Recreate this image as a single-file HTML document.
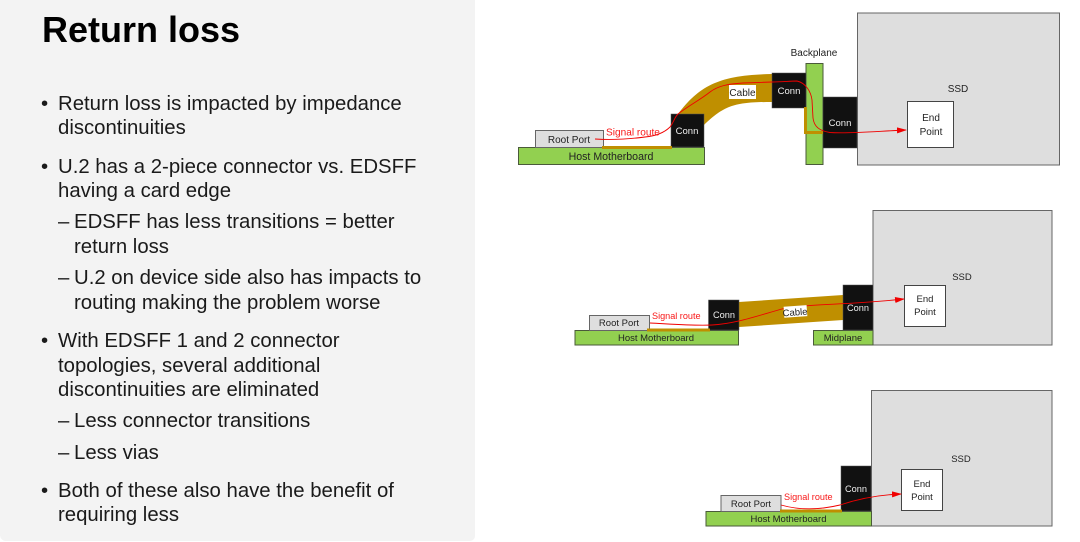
<!DOCTYPE html>
<html><head><meta charset="utf-8"><style>
html,body{margin:0;padding:0;background:#fff}
svg{display:block;filter:blur(.3px)}
.b{font:20.35px "Liberation Sans",sans-serif;fill:#1a1a1a}
.d{font:10px "Liberation Sans",sans-serif;fill:#222;text-anchor:middle}
.m{font-size:10.6px}
.w{font:9.5px "Liberation Sans",sans-serif;fill:#eee;text-anchor:middle}
.r{font:10.1px "Liberation Sans",sans-serif;fill:#f81818}
.s .d{font-size:9.5px}
.s .w{font-size:9.2px}
.s .r{font-size:9.1px}
.g{fill:#92d050;stroke:#4a5a3a;stroke-width:1}
.p{fill:#dedede;stroke:#666;stroke-width:1}
.k{fill:#111;stroke:#555;stroke-width:.5}
.e{fill:#fff;stroke:#444;stroke-width:1}
.t{fill:none;stroke:#bf8f00;stroke-width:3}
.l{fill:none;stroke:#f00000;stroke-width:.9}
</style></head><body>
<svg width="1080" height="542" viewBox="0 0 1080 542" xmlns="http://www.w3.org/2000/svg">
<defs><marker id="a" markerWidth="10" markerHeight="6" refX="9" refY="3" orient="auto" markerUnits="userSpaceOnUse"><path d="M0 0L10 3L0 6Z" fill="#f00000"/></marker></defs>
<path d="M0 0H475V536a5 5 0 0 1-5 5H6a6 6 0 0 1-6-6Z" fill="#f3f3f3"/>
<text x="42" y="42" style="font:bold 36px 'Liberation Sans',sans-serif;fill:#000">Return loss</text>
<g class="b">
<text x="41" y="110">•</text><text x="58" y="110">Return loss is impacted by impedance</text>
<text x="58" y="134">discontinuities</text>
<text x="41" y="173">•</text><text x="58" y="173">U.2 has a 2-piece connector vs. EDSFF</text>
<text x="58" y="197">having a card edge</text>
<text x="58" y="228">–</text><text x="74" y="228">EDSFF has less transitions = better</text>
<text x="74" y="253">return loss</text>
<text x="58" y="284">–</text><text x="74" y="284">U.2 on device side also has impacts to</text>
<text x="74" y="309">routing making the problem worse</text>
<text x="41" y="347">•</text><text x="58" y="347">With EDSFF 1 and 2 connector</text>
<text x="58" y="372">topologies, several additional</text>
<text x="58" y="396">discontinuities are eliminated</text>
<text x="58" y="427">–</text><text x="74" y="427">Less connector transitions</text>
<text x="58" y="459">–</text><text x="74" y="459">Less vias</text>
<text x="41" y="497">•</text><text x="58" y="497">Both of these also have the benefit of</text>
<text x="58" y="521">requiring less</text>
</g>

<!-- Diagram 1 -->
<rect class="p" x="857.5" y="13" width="202" height="152"/>
<rect class="g" x="518.5" y="147.5" width="186" height="17"/>
<rect class="p" x="535.5" y="130.5" width="68" height="17"/>
<path d="M678 114C700 85 720 75 772 74V102C735 102 725 105 704 125Z" fill="#bf8f00"/>
<rect class="g" x="806" y="63.5" width="17" height="101"/>
<rect class="k" x="671" y="114" width="33" height="33"/>
<rect class="k" x="772" y="73" width="34" height="35"/>
<rect class="k" x="823" y="97" width="34" height="51"/>
<rect class="e" x="907.5" y="101.5" width="46" height="46"/>
<path class="t" d="M602 147.5H672"/>
<path class="t" d="M805.5 107V132.500H823"/>
<path class="l" marker-end="url(#a)" d="M595 139C610 140 630 139 645 137C655 136 664 133 670 127C674 122 674 118 678 114C688 106 700 100 710 92C718 86 727 84 743 83L772 82C782 82 790 81 797 81C806 83 811 92 812 100L813 118C814 127 820 131 830 132.5C850 134 880 131 906 130"/>
<text class="d" x="569" y="143">Root Port</text>
<text class="d m" x="611" y="160">Host Motherboard</text>
<text class="r" x="606" y="135.500">Signal route</text>
<text class="w" x="687" y="134">Conn</text>
<text class="w" x="789" y="94">Conn</text>
<text class="w" x="840" y="126">Conn</text>
<rect x="729" y="85" width="27" height="14" fill="#fff"/>
<text class="d" x="742.500" y="96">Cable</text>
<text class="d" x="814" y="56">Backplane</text>
<text class="d" x="958" y="92">SSD</text>
<text class="d" x="931" y="121">End</text>
<text class="d" x="931" y="135">Point</text>

<!-- Diagram 2 -->
<g class="s">
<rect class="p" x="873" y="210.500" width="179" height="134.500"/>
<rect class="g" x="575" y="330.500" width="163.500" height="14.500"/>
<rect class="g" x="813.500" y="330.500" width="59.500" height="14.500"/>
<rect class="p" x="589.500" y="315.500" width="60" height="15"/>
<path d="M739 302L843 295V320L739 327Z" fill="#bf8f00"/>
<rect class="k" x="708.500" y="300" width="30.500" height="30"/>
<rect class="k" x="843" y="285" width="30" height="45"/>
<rect class="e" x="904.500" y="285.500" width="41" height="41"/>
<path class="t" d="M647 330H710"/>
<path class="l" marker-end="url(#a)" d="M650 323C670 324 695 326 712 325C735 324 760 315 782 309C800 304 850 305 904 299"/>
<text class="d" x="619" y="326">Root Port</text>
<text class="d" x="656" y="341">Host Motherboard</text>
<text class="r" x="652" y="319">Signal route</text>
<text class="w" x="724" y="318">Conn</text>
<text class="w" x="858" y="311">Conn</text>
<text class="d" x="843" y="341">Midplane</text>
<g transform="rotate(-4 795 312)"><rect x="784" y="306" width="23" height="11" fill="#fff"/><text class="d" x="795" y="315.500">Cable</text></g>
<text class="d" x="962" y="280">SSD</text>
<text class="d" x="925" y="302">End</text>
<text class="d" x="925" y="315">Point</text>
</g>

<!-- Diagram 3 -->
<g class="s">
<rect class="p" x="871.500" y="390.500" width="180.500" height="135.500"/>
<rect class="g" x="706" y="511.500" width="165.500" height="14.500"/>
<rect class="p" x="721" y="495.500" width="60" height="16"/>
<rect class="k" x="841" y="466" width="30" height="45"/>
<rect class="e" x="901.500" y="469.500" width="41" height="41"/>
<path class="t" d="M780 511H842"/>
<path class="l" marker-end="url(#a)" d="M781 505C795 509 815 511 840 505C855 500 875 495 901 494"/>
<text class="d" x="751" y="507">Root Port</text>
<text class="d" x="788.500" y="522">Host Motherboard</text>
<text class="r" x="784" y="500">Signal route</text>
<text class="w" x="856" y="492">Conn</text>
<text class="d" x="961" y="462">SSD</text>
<text class="d" x="922" y="487">End</text>
<text class="d" x="922" y="500">Point</text>
</g>
</svg>
</body></html>
